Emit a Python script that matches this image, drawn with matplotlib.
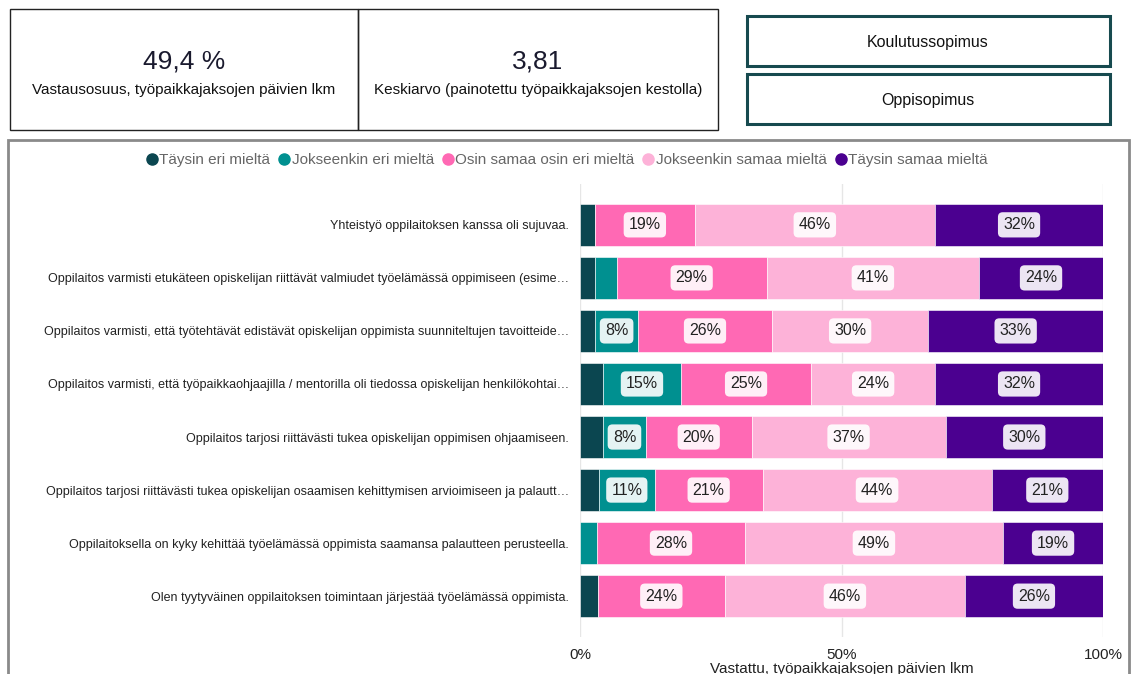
import matplotlib.pyplot as plt
from matplotlib.patches import Rectangle
from matplotlib.lines import Line2D
from matplotlib import ticker
import numpy as np

plt.rcParams['font.family'] = ['Liberation Sans', 'DejaVu Sans']

# data
statements = [
    'Yhteistyö oppilaitoksen kanssa oli sujuvaa.',
    'Oppilaitos varmisti etukäteen opiskelijan riittävät valmiudet työelämässä oppimiseen (esime…',
    'Oppilaitos varmisti, että työtehtävät edistävät opiskelijan oppimista suunniteltujen tavoitteide…',
    'Oppilaitos varmisti, että työpaikkaohjaajilla / mentorilla oli tiedossa opiskelijan henkilökohtai…',
    'Oppilaitos tarjosi riittävästi tukea opiskelijan oppimisen ohjaamiseen.',
    'Oppilaitos tarjosi riittävästi tukea opiskelijan osaamisen kehittymisen arvioimiseen ja palautt…',
    'Oppilaitoksella on kyky kehittää työelämässä oppimista saamansa palautteen perusteella.',
    'Olen tyytyväinen oppilaitoksen toimintaan järjestää työelämässä oppimista.',
]
categories = ['Täysin eri mieltä', 'Jokseenkin eri mieltä', 'Osin samaa osin eri mieltä',
              'Jokseenkin samaa mieltä', 'Täysin samaa mieltä']
colors = ['#0b4650', '#009090', '#ff69b4', '#fdb2d8', '#4b0090']

taysin_eri = [2.9, 2.9, 2.9, 4.4, 4.4, 3.6, 0.0, 3.4]
jokseenkin_eri = [0.0, 4.1, 8.2, 14.9, 8.2, 10.7, 3.3, 0.0]
osin = [19.0, 28.7, 25.6, 24.9, 20.2, 20.6, 28.2, 24.3]
jokseenkin_samaa = [46.0, 40.6, 29.9, 23.7, 37.1, 43.8, 49.4, 45.9]
taysin_samaa = [32.1, 23.7, 33.4, 32.1, 30.1, 21.3, 19.1, 26.4]

kpi_values = ['49,4 %', '3,81']
kpi_labels = ['Vastausosuus, työpaikkajaksojen päivien lkm',
              'Keskiarvo (painotettu työpaikkajaksojen kestolla)']
buttons = ['Koulutussopimus', 'Oppisopimus']

W, H = 1134, 674
fig = plt.figure(figsize=(W / 100, H / 100), dpi=100)


def box(x0, y0, x1, y1, ec, lw):
    # pixel coords from top-left
    r = Rectangle((x0 / W, 1 - y1 / H), (x1 - x0) / W, (y1 - y0) / H,
                  transform=fig.transFigure, fill=False, ec=ec, lw=lw)
    fig.add_artist(r)


# KPI cards
box(10, 9, 358, 130, '#222222', 1.0)
box(358, 9, 718, 130, '#222222', 1.0)
for i, (v, lab) in enumerate(zip(kpi_values, kpi_labels)):
    cx = [184, 538][i]
    fig.text(cx / W, 1 - 62 / H, v, ha='center', va='center', fontsize=19, color='#1a1a2e')
    fig.text(cx / W, 1 - 90 / H, lab, ha='center', va='center', fontsize=11, color='#111111')

# buttons
box(747, 16, 1110, 66, '#174a4f', 2.2)
box(747, 74, 1110, 124, '#174a4f', 2.2)
fig.text(928 / W, 1 - 42 / H, buttons[0], ha='center', va='center', fontsize=11.5, color='#111111')
fig.text(928 / W, 1 - 100 / H, buttons[1], ha='center', va='center', fontsize=11.5, color='#111111')

# chart panel
r = Rectangle((8 / W, -0.05), (1129 - 8) / W, 1 - 140 / H + 0.05,
              transform=fig.transFigure, fill=False, ec='#8a8a8a', lw=2)
fig.add_artist(r)

ax = fig.add_axes([580 / W, 1 - 637 / H, 523 / W, (637 - 184) / H])
series = [taysin_eri, jokseenkin_eri, osin, jokseenkin_samaa, taysin_samaa]
y = np.arange(len(statements))
left = np.zeros(len(statements))
for vals, col in zip(series, colors):
    vals = np.array(vals)
    ax.barh(y, vals, left=left, height=0.79, color=col, edgecolor='white', linewidth=0.4, zorder=3)
    for yi, (l, v) in enumerate(zip(left, vals)):
        if v >= 5:
            ax.text(l + v / 2, yi, f'{v:.0f}%', ha='center', va='center', fontsize=11.5,
                    color='#222222', zorder=4,
                    bbox=dict(boxstyle='round,pad=0.32,rounding_size=0.3', fc='white',
                              ec='none', alpha=0.9))
    left += vals

ax.set_xlim(0, 100)
ax.set_ylim(7.77, -0.77)
ax.set_yticks(y)
ax.set_yticklabels(statements, fontsize=9, color='#222222')
ax.xaxis.set_major_locator(ticker.FixedLocator([0, 50, 100]))
ax.xaxis.set_major_formatter(ticker.FuncFormatter(lambda v, p: f'{v:.0f}%'))
ax.tick_params(axis='x', labelsize=11, length=0, pad=8, colors='#222222')
ax.tick_params(axis='y', length=0, pad=8)
ax.grid(axis='x', color='#e6e6e6', lw=1, zorder=0)
for s in ax.spines.values():
    s.set_visible(False)
ax.set_xlabel('Vastattu, työpaikkajaksojen päivien lkm', fontsize=11, color='#222222', labelpad=0)

# legend
handles = [Line2D([], [], marker='o', ls='none', color=c, markersize=8) for c in colors]
fig.legend(handles, categories, loc='center', bbox_to_anchor=(566 / W, 1 - 160 / H), ncol=5,
           frameon=False, fontsize=11, handletextpad=0.0, columnspacing=0.4,
           labelcolor='#666666', handlelength=1.0)

fig.savefig('out.png', dpi=100)
